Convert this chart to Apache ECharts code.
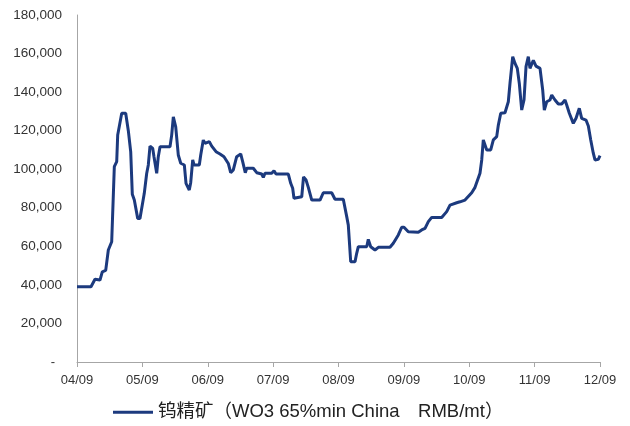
<!DOCTYPE html>
<html>
<head>
<meta charset="utf-8">
<title>钨精矿价格</title>
<script src="https://cdn.jsdelivr.net/npm/echarts@6/dist/echarts.min.js"></script>
<style>
  html, body { margin: 0; padding: 0; background: #fff; }
  #chart { width: 630px; height: 426px; }
</style>
</head>
<body>
<div id="chart"></div>
<script>
// x 轴刻度（每年 9 月）
var xLabels = ["04/09", "05/09", "06/09", "07/09", "08/09", "09/09", "10/09", "11/09", "12/09"];
var seriesName = "钨精矿（WO3 65%min China\u3000RMB/mt）";

// 距 2004/09 的月数
var months = [
  0, 2.57, 3.3, 4.22, 4.64, 5.27, 5.75, 6.37, 6.85, 7.29,
  7.47, 8.21, 8.94, 9.42, 9.86, 10.15, 10.52, 11.14, 11.56, 11.88,
  12.35, 12.79, 13.09, 13.4, 13.9, 14.13, 14.63, 14.92, 15.24, 17.07,
  17.38, 17.68, 18.12, 18.59, 19.04, 19.7, 20.01, 20.61, 20.87, 21.24,
  21.48, 22.45, 22.71, 23.18, 23.5, 23.81, 24.29, 24.73, 25.52, 26.25,
  26.98, 27.77, 28.21, 28.69, 29.31, 30.05, 30.41, 30.89, 31.15, 32.36,
  32.99, 33.9, 34.2, 34.51, 35.74, 36.16, 36.53, 38.79, 39.23, 39.59,
  39.83, 41.25, 41.58, 42.04, 42.46, 43.09, 44.61, 45.21, 46.75, 47.36,
  48.88, 49.51, 49.8, 50.24, 51.03, 51.34, 51.64, 53.18, 53.47, 53.91,
  54.7, 55.31, 57.45, 58.06, 58.98, 59.6, 60.02, 60.81, 62.65, 63.27,
  63.88, 64.49, 65.11, 66.94, 67.86, 68.47, 69.7, 70.3, 71.22, 71.53,
  72.45, 73.06, 73.97, 74.29, 74.58, 75.21, 75.94, 76.42, 77.04, 77.34,
  77.78, 78.56, 79.17, 79.48, 79.98, 80.4, 80.82, 81.19, 81.63, 82.05,
  82.42, 82.84, 83.15, 83.76, 84.25, 84.99, 85.48, 85.78, 86.22, 86.82,
  87.14, 87.74, 88.35, 88.97, 89.58, 89.89, 90.37, 91.1, 91.6, 92.2,
  92.64, 93.43, 93.86, 94.3, 94.77, 95.08, 95.69, 96
];
// 价格 元/吨
var prices = [
  39000, 39000, 42900, 42500, 46800, 47500, 58100, 62400, 101300, 104000,
  117700, 129000, 129000, 120000, 109000, 87000, 84000, 74500, 74500, 79700,
  87500, 97800, 102200, 112000, 110800, 106500, 97900, 106500, 111700, 111700,
  117700, 127200, 122000, 107400, 103100, 102200, 92700, 89200, 93000, 104800,
  102200, 102200, 107400, 115100, 113400, 114300, 114300, 112000, 109100, 107900,
  106500, 103000, 98200, 99600, 106500, 107900, 103900, 98200, 100500, 100500,
  98200, 97500, 95800, 97900, 97900, 99200, 97500, 97500, 92700, 90100,
  84900, 85700, 96000, 94400, 90600, 84000, 84000, 87800, 87800, 84400,
  84400, 75400, 71000, 52000, 52000, 56400, 59800, 59800, 63600, 59800,
  58100, 59500, 59500, 61600, 65900, 69900, 69900, 67600, 67300, 68500,
  69300, 72800, 75000, 75000, 78000, 81400, 82600, 83100, 84000, 84900,
  87800, 90600, 97900, 104800, 115200, 110000, 110000, 115200, 116900, 122900,
  129000, 129300, 135000, 144600, 158400, 154900, 152300, 144500, 130700, 135900,
  153200, 158400, 152300, 156500, 153500, 152300, 141100, 130700, 135000, 135900,
  138500, 135900, 133800, 133800, 135900, 133300, 129000, 123800, 126400, 131600,
  126400, 125500, 122400, 115200, 108300, 104800, 105100, 107000
];

var lineData = months.map(function (m, i) {
  return [m, prices[i]];
});

var chartDom = document.getElementById("chart");
var eChart = echarts.init(chartDom, null, { renderer: "canvas" });

var options = {
  animation: false,
  backgroundColor: "#fff",
  grid: {
    left: 77,
    right: 30,
    top: 15,
    bottom: 64,
  },
  legend: {
    left: 113,
    top: 403,
    padding: 0,
    icon: "rect",
    itemWidth: 40,
    itemHeight: 3,
    textStyle: {
      fontFamily: "'Liberation Sans', Arial, 'Noto Sans CJK SC', sans-serif",
      fontSize: 18.5,
      color: "#222",
    },
    data: [seriesName],
  },
  xAxis: {
    type: "value",
    min: 0,
    max: 96,
    interval: 12,
    splitLine: { show: false },
    axisLine: { lineStyle: { color: "#a6a6a6", width: 1 } },
    axisTick: { show: true, length: 5, lineStyle: { color: "#a6a6a6" } },
    axisLabel: {
      margin: 12,
      fontSize: 13,
      fontFamily: "'Liberation Sans', Arial, sans-serif",
      color: "#333",
      formatter: function (v) {
        return xLabels[Math.round(v / 12)];
      },
    },
  },
  yAxis: {
    type: "value",
    min: 0,
    max: 180000,
    interval: 20000,
    splitLine: { show: false },
    axisLine: { show: true, lineStyle: { color: "#a6a6a6", width: 1 } },
    axisTick: { show: false },
    axisLabel: {
      margin: 15,
      fontSize: 13.5,
      fontFamily: "'Liberation Sans', Arial, sans-serif",
      color: "#333",
      formatter: function (v) {
        if (v === 0) {
          return "{d|-}";
        }
        return v.toLocaleString("en-US");
      },
      rich: {
        d: { padding: [0, 7, 0, 0], fontSize: 13, color: "#333" },
      },
    },
  },
  series: [
    {
      name: seriesName,
      type: "line",
      data: lineData,
      symbol: "none",
      smooth: false,
      lineStyle: { color: "#1c3a7e", width: 3 },
      itemStyle: { color: "#1c3a7e" },
    },
  ],
};

eChart.setOption(options);
</script>
</body>
</html>
